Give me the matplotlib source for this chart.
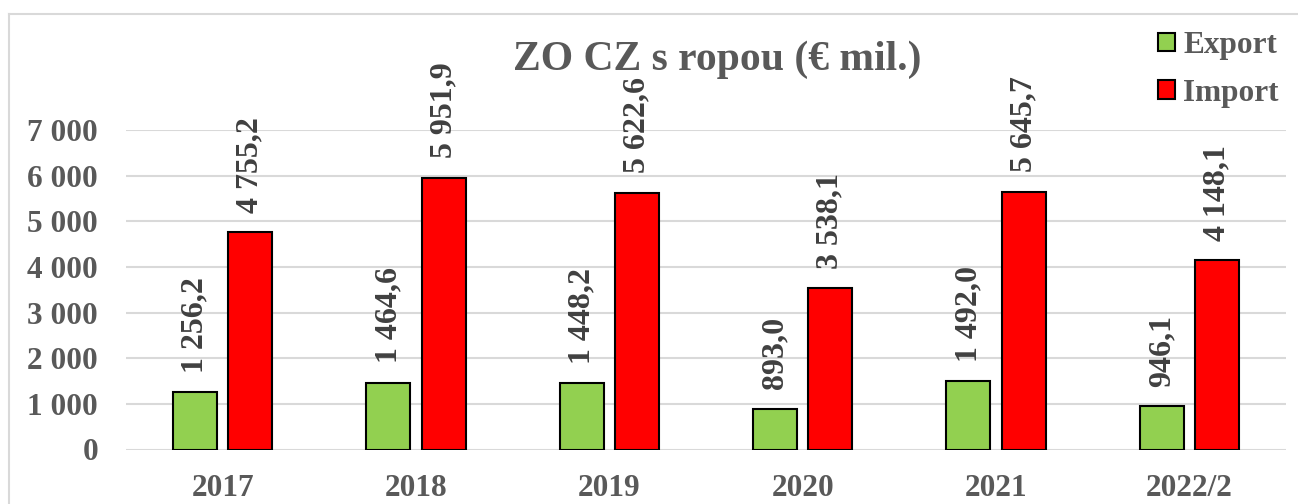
import numpy as np
import matplotlib.pyplot as plt
from matplotlib.patches import Patch

plt.close('all')

# Data
years = ['2017', '2018', '2019', '2020', '2021', '2022/2']
export = [1256.2, 1464.6, 1448.2, 893.0, 1492.0, 946.1]
imports = [4755.2, 5951.9, 5622.6, 3538.1, 5645.7, 4148.1]

W, H = 1298, 504
fig = plt.figure(figsize=(W / 100, H / 100), dpi=100)
plt.rcParams['font.family'] = ['Liberation Serif', 'DejaVu Serif']
plt.rcParams['font.weight'] = 'bold'

gray = '#595959'
dark = '#404040'
green = '#92D050'
red = '#FF0000'

# axes placed to match plot area
ax = fig.add_axes([126 / W, 1 - 449.5 / H, (1286 - 126) / W, (449.5 - 130) / H])

x = np.arange(len(years))
bw = 0.228
off = 0.1425
b1 = ax.bar(x - off, export, bw, color=green, edgecolor='black', linewidth=1.5, zorder=3)
b2 = ax.bar(x + off, imports, bw, color=red, edgecolor='black', linewidth=1.5, zorder=3)

def fmt(v):
    s = f'{v:,.1f}'.replace(',', ' ').replace('.', ',')
    return s

for bars, vals in [(b1, export), (b2, imports)]:
    for r, v in zip(bars, vals):
        ax.annotate(fmt(v), (r.get_x() + r.get_width() / 2, v), xytext=(0, 14),
                    textcoords='offset points', rotation=90, ha='center', va='bottom',
                    fontsize=23, fontweight='bold', color=dark, clip_on=False,
                    annotation_clip=False)

ax.set_xlim(-0.5, len(years) - 0.5)
ax.set_ylim(0, 7000)
ax.set_yticks(np.arange(0, 7001, 1000))
ax.set_yticklabels([f'{int(v):,}'.replace(',', ' ') for v in np.arange(0, 7001, 1000)])
ax.set_xticks(x)
ax.set_xticklabels(years)
ax.tick_params(axis='y', length=0, pad=20, labelsize=22.5, labelcolor=gray)
ax.tick_params(axis='x', length=0, pad=18, labelsize=22.5, labelcolor=gray)
for lab in ax.get_xticklabels() + ax.get_yticklabels():
    lab.set_fontweight('bold')

ax.grid(axis='y', color='#D9D9D9', linewidth=1.5, zorder=0)
for s in ax.spines.values():
    s.set_visible(False)

# title
fig.text(717 / W, 1 - 70 / H, 'ZO CZ s ropou (€ mil.)', ha='center', va='baseline',
         fontsize=30, fontweight='bold', color=gray)

# legend
handles = [Patch(facecolor=green, edgecolor='black', linewidth=1.5, label='Export'),
           Patch(facecolor=red, edgecolor='black', linewidth=1.5, label='Import')]
fig.legend(handles=handles, loc='upper left', bbox_to_anchor=(1158 / W, 1 - 31 / H),
           frameon=False, handlelength=0.55, handleheight=0.55,
           handletextpad=0.25, labelspacing=0.6, borderaxespad=0, borderpad=0,
           labelcolor=gray, prop={'weight': 'bold', 'size': 22.5})

# outer chart border (left and top visible)
fig.add_artist(plt.Line2D([9 / W, 9 / W], [0, 1 - 14 / H], color='#D9D9D9', linewidth=1.5))
fig.add_artist(plt.Line2D([9 / W, 1], [1 - 14 / H, 1 - 14 / H], color='#D9D9D9', linewidth=1.5))

fig.savefig('out.png', dpi=100)
